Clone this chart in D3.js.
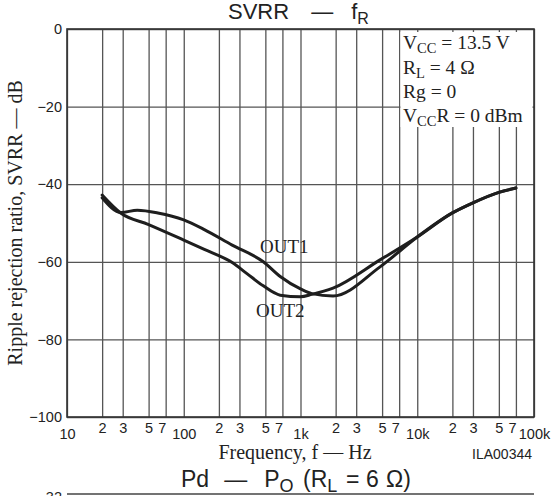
<!DOCTYPE html>
<html><head><meta charset="utf-8">
<script src="https://cdn.jsdelivr.net/npm/d3@7"></script>
<style>
html,body{margin:0;padding:0;background:#fff;}
svg{display:block;}
</style></head>
<body>
<script>
// ---- data ----
const out1Freq = [20, 29, 40, 60, 100, 150, 260, 480, 670, 1000, 1250, 1900, 4800, 10000, 20000, 30000, 50000, 70000];
const out1Db   = [-43.5, -47.3, -46.7, -47.4, -49.2, -51.7, -55.7, -60, -63.8, -67, -68.2, -68.8, -61.3, -53.6, -47.4, -44.8, -42.1, -41];
const out2Freq = [20, 29, 50, 100, 150, 260, 350, 480, 670, 1000, 1250, 1900, 4800, 10000, 20000, 30000, 50000, 70000];
const out2Db   = [-42.8, -47.5, -50.4, -54.4, -56.8, -60.2, -63.1, -66.2, -68.6, -69, -68.4, -66.8, -59.5, -53.6, -47.4, -44.8, -42.1, -41];
const yTicks = [0, -20, -40, -60, -80, -100];
const decades = [10, 100, 1000, 10000, 100000];
const decadeLabels = ["10", "100", "1k", "10k", "100k"];
const minorMult = [2, 3, 5, 7];
const legendLines = [
  [["V", false], ["CC", true], [" = 13.5 V", false]],
  [["R", false], ["L", true], [" = 4 Ω", false]],
  [["Rg = 0", false]],
  [["V", false], ["CC", true], ["R = 0 dBm", false]]
];

const W = 558, H = 496;
const L = 67, R = 534, T = 29, B = 417;
const svg = d3.select("body").append("svg").attr("width", W).attr("height", H);

const x = d3.scaleLog().domain([10, 100000]).range([L, R]);
const y = d3.scaleLinear().domain([-100, 0]).range([B, T]);

const sans = "'Liberation Sans', Arial, sans-serif";
const serif = "'Liberation Serif', 'Times New Roman', serif";

// all vertical grid values
const xGrid = [];
decades.forEach((d, i) => {
  xGrid.push(d);
  if (i < decades.length - 1) minorMult.forEach(m => xGrid.push(d * m));
});

// vertical grid + x labels via axis
const xAxis = d3.axisBottom(x).tickValues(xGrid).tickSize(-(B - T)).tickPadding(0)
  .tickFormat(v => {
    const di = decades.indexOf(v);
    if (di >= 0) return decadeLabels[di];
    const m = Math.round(v / Math.pow(10, Math.floor(Math.log10(v) + 1e-9)));
    return String(m);
  });
const gx = svg.append("g").attr("transform", `translate(0,${B})`).call(xAxis);
gx.select(".domain").remove();
gx.selectAll(".tick line").attr("stroke", "#555").attr("stroke-width", 1.3);
gx.selectAll(".tick text")
  .attr("font-family", sans).attr("font-size", 14.5).attr("fill", "#222")
  .attr("dy", null)
  .attr("y", v => decades.indexOf(v) >= 0 ? 22 : 16)
  .attr("x", v => {
    const m = v / Math.pow(10, Math.floor(Math.log10(v) + 1e-9));
    return Math.abs(m - 7) < 0.01 ? -4 : 0;
  });

// horizontal grid + y labels via axis
const yAxis = d3.axisLeft(y).tickValues(yTicks).tickSize(-(R - L)).tickPadding(5)
  .tickFormat(v => v === 0 ? "0" : "\u2212" + Math.abs(v));
const gy = svg.append("g").attr("transform", `translate(${L},0)`).call(yAxis);
gy.select(".domain").remove();
gy.selectAll(".tick line").attr("stroke", "#555").attr("stroke-width", 1.3);
gy.selectAll(".tick text").attr("font-family", sans).attr("font-size", 14.5).attr("fill", "#222");

// frame
svg.append("rect").attr("x", L).attr("y", T).attr("width", R - L).attr("height", B - T)
  .attr("fill", "none").attr("stroke", "#333").attr("stroke-width", 1.6);

// legend box (white background over grid)
svg.append("rect").attr("x", 400.5).attr("y", 32).attr("width", 132).attr("height", 95)
  .attr("fill", "#fff");
const legBase = [49, 73.5, 97.5, 122];
legendLines.forEach((parts, i) => {
  const t = svg.append("text").attr("x", 403).attr("y", legBase[i])
    .attr("font-family", serif).attr("font-size", 19.5).attr("fill", "#222")
    .style("white-space", "pre");
  let sub = false;
  parts.forEach(([s, isSub]) => {
    const ts = t.append("tspan").text(s);
    if (isSub && !sub) { ts.attr("font-size", 14.5).attr("dy", 4); sub = true; }
    else if (!isSub && sub) { ts.attr("dy", -4); sub = false; }
  });
});

// curves
const line = d3.line().x(d => x(d[0])).y(d => y(d[1])).curve(d3.curveMonotoneX);
const series = [d3.zip(out1Freq, out1Db), d3.zip(out2Freq, out2Db)];
svg.selectAll("path.curve").data(series).enter().append("path")
  .attr("class", "curve").attr("d", line)
  .attr("fill", "none").attr("stroke", "#1e1e1e").attr("stroke-width", 3)
  .attr("stroke-linejoin", "round").attr("stroke-linecap", "round");

// curve labels
svg.append("text").attr("x", 260).attr("y", 253).attr("font-family", serif)
  .attr("font-size", 19).attr("fill", "#222").text("OUT1");
svg.append("text").attr("x", 256).attr("y", 317).attr("font-family", serif)
  .attr("font-size", 19).attr("fill", "#222").text("OUT2");

// title
const title = svg.append("text").attr("x", 228).attr("y", 18.5)
  .attr("font-family", sans).attr("font-size", 22).attr("fill", "#222");
title.append("tspan").text("SVRR");
title.append("tspan").attr("dx", 22).text("\u2014");
title.append("tspan").attr("dx", 18).text("f");
title.append("tspan").attr("font-size", 16).attr("dy", 5).text("R");

// axis titles
svg.append("text").attr("x", 295).attr("y", 459).attr("text-anchor", "middle")
  .attr("font-family", serif).attr("font-size", 20).attr("fill", "#222")
  .text("Frequency, f \u2014 Hz");
svg.append("text").attr("transform", `translate(22,${(T + B) / 2}) rotate(-90)`)
  .attr("text-anchor", "middle").attr("font-family", serif).attr("font-size", 20).attr("fill", "#222")
  .text("Ripple rejection ratio, SVRR \u2014 dB");

svg.append("text").attr("x", 532).attr("y", 459).attr("text-anchor", "end")
  .attr("font-family", sans).attr("font-size", 14).attr("fill", "#222").text("ILA00344");

// next chart header (partially visible)
const t2 = svg.append("text").attr("x", 181).attr("y", 487)
  .attr("font-family", sans).attr("font-size", 23).attr("fill", "#222");
t2.append("tspan").text("Pd");
t2.append("tspan").attr("dx", 15).text("\u2014");
t2.append("tspan").attr("dx", 17).text("P");
t2.append("tspan").attr("font-size", 18).attr("dy", 5).text("O");
t2.append("tspan").attr("x", 303).attr("dy", -5).text("(R");
t2.append("tspan").attr("font-size", 18).attr("dy", 5).text("L");
t2.append("tspan").attr("x", 346).attr("dy", -5).text("=");
t2.append("tspan").attr("x", 366).text("6");
t2.append("tspan").attr("x", 386).text("\u03A9)");
svg.append("line").attr("x1", L).attr("x2", R).attr("y1", 494).attr("y2", 494)
  .attr("stroke", "#444").attr("stroke-width", 1.6);
svg.append("text").attr("x", 62).attr("y", 502).attr("text-anchor", "end")
  .attr("font-family", sans).attr("font-size", 14.5).attr("fill", "#222").text("32");
</script>
</body></html>
